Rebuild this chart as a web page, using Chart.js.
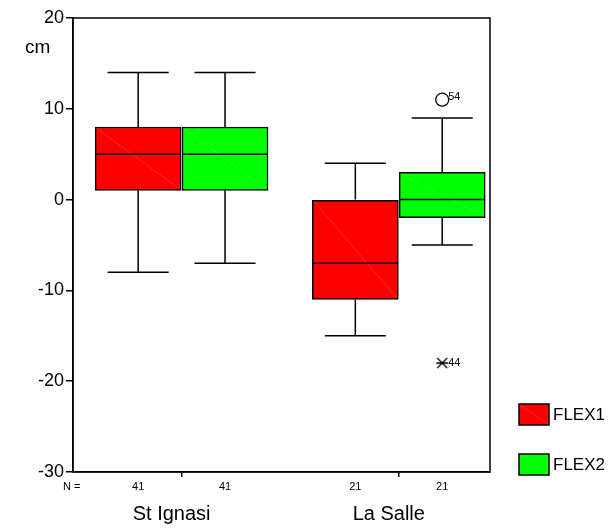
<!DOCTYPE html>
<html>
<head>
<meta charset="utf-8">
<script src="https://cdn.jsdelivr.net/npm/chart.js@4.4.1/dist/chart.umd.min.js"></script>
<style>
  html, body { margin: 0; padding: 0; background: #fff; }
  #wrap { width: 615px; height: 529px; }
</style>
</head>
<body>
<div id="wrap"><canvas id="boxChart"></canvas></div>
<script>
// groups and series
const groups = ['St Ignasi', 'La Salle'];
const seriesNames = ['FLEX1', 'FLEX2'];

// five-number summaries per group (cm)
const flex1Min = [-8, -15];
const flex1Q1 = [1, -11];
const flex1Median = [5, -7];
const flex1Q3 = [8, 0];
const flex1Max = [14, 4];

const flex2Min = [-7, -5];
const flex2Q1 = [1, -2];
const flex2Median = [5, 0];
const flex2Q3 = [8, 3];
const flex2Max = [14, 9];

// N per box
const flex1N = [41, 21];
const flex2N = [41, 21];

// outliers (group index, series index, value, case number, kind)
const outlierGroup = [1, 1];
const outlierSeries = [1, 1];
const outlierValue = [11, -18];
const outlierCase = ['54', '44'];
const outlierKind = ['circle', 'extreme'];

const yTicks = [20, 10, 0, -10, -20, -30];

const FONT = "'Liberation Sans', Arial, sans-serif";
const colors = ['#ff0000', '#00ff00'];

function boxX(g, s) {
    return g * 2 + 1 + (s === 0 ? -0.4 : 0.4);
}

const summaries = [
    { min: flex1Min, q1: flex1Q1, med: flex1Median, q3: flex1Q3, max: flex1Max, n: flex1N },
    { min: flex2Min, q1: flex2Q1, med: flex2Median, q3: flex2Q3, max: flex2Max, n: flex2N }
];

// asterisk marker for extreme values
const starCanvas = document.createElement('canvas');
starCanvas.width = 14;
starCanvas.height = 14;
(function () {
    const c = starCanvas.getContext('2d');
    c.strokeStyle = '#000';
    c.lineWidth = 1.3;
    c.beginPath();
    c.moveTo(2, 2); c.lineTo(12, 12);
    c.moveTo(12, 2); c.lineTo(2, 12);
    c.moveTo(1, 7); c.lineTo(13, 7);
    c.stroke();
})();

const boxDatasets = seriesNames.map((name, s) => ({
    type: 'bar',
    label: name,
    data: groups.map((g, i) => ({ x: boxX(i, s), y: [summaries[s].q1[i], summaries[s].q3[i]] })),
    backgroundColor: colors[s],
    borderColor: '#000',
    borderWidth: 1.5,
    borderSkipped: false,
    barThickness: 86,
    grouped: false
}));

const circleIdx = outlierKind.map((k, i) => i).filter(i => outlierKind[i] === 'circle');
const extremeIdx = outlierKind.map((k, i) => i).filter(i => outlierKind[i] === 'extreme');

const outlierDatasets = [
    {
        type: 'scatter',
        label: 'outliers',
        data: circleIdx.map(i => ({ x: boxX(outlierGroup[i], outlierSeries[i]), y: outlierValue[i] })),
        pointStyle: 'circle',
        pointRadius: 6.5,
        backgroundColor: '#fff',
        borderColor: '#000',
        borderWidth: 1.3
    },
    {
        type: 'scatter',
        label: 'extremes',
        data: extremeIdx.map(i => ({ x: boxX(outlierGroup[i], outlierSeries[i]), y: outlierValue[i] })),
        pointStyle: starCanvas,
        pointRadius: 7
    }
];

// whiskers, medians, frame, labels and legend
const boxPlotExtras = {
    id: 'boxPlotExtras',
    afterDatasetsDraw(chart) {
        const ctx = chart.ctx;
        const xs = chart.scales.x;
        const ys = chart.scales.y;
        const area = chart.chartArea;
        ctx.save();

        summaries.forEach((sm, s) => {
            const bars = chart.getDatasetMeta(s).data;
            groups.forEach((g, i) => {
                const cx = xs.getPixelForValue(boxX(i, s));
                const half = bars[i].width / 2;
                const cap = bars[i].width * 0.355;
                const yq1 = ys.getPixelForValue(sm.q1[i]);
                const yq3 = ys.getPixelForValue(sm.q3[i]);
                const ymed = ys.getPixelForValue(sm.med[i]);
                const ymin = ys.getPixelForValue(sm.min[i]);
                const ymax = ys.getPixelForValue(sm.max[i]);

                // faint diagonal artifact inside the box
                ctx.strokeStyle = 'rgba(255,255,255,0.25)';
                ctx.lineWidth = 0.6;
                ctx.beginPath();
                ctx.moveTo(cx - half + 1, yq3 + 1);
                ctx.lineTo(cx + half - 1, yq1 - 1);
                ctx.stroke();

                ctx.strokeStyle = '#000';
                ctx.lineWidth = 1.5;
                ctx.beginPath();
                ctx.moveTo(cx - half, ymed); ctx.lineTo(cx + half, ymed);
                ctx.moveTo(cx, yq3); ctx.lineTo(cx, ymax);
                ctx.moveTo(cx - cap, ymax); ctx.lineTo(cx + cap, ymax);
                ctx.moveTo(cx, yq1); ctx.lineTo(cx, ymin);
                ctx.moveTo(cx - cap, ymin); ctx.lineTo(cx + cap, ymin);
                ctx.stroke();
            });
        });

        // plot frame
        ctx.strokeStyle = '#000';
        ctx.lineWidth = 1.5;
        ctx.strokeRect(area.left, area.top, area.right - area.left, area.bottom - area.top);

        // outlier case numbers
        ctx.fillStyle = '#000';
        ctx.font = '11px ' + FONT;
        ctx.textAlign = 'left';
        ctx.textBaseline = 'middle';
        outlierValue.forEach((v, i) => {
            const px = xs.getPixelForValue(boxX(outlierGroup[i], outlierSeries[i]));
            const py = ys.getPixelForValue(v);
            ctx.fillText(outlierCase[i], px + 6, py - (outlierKind[i] === 'circle' ? 3 : 0));
        });

        // N row
        const nY = area.bottom + 15;
        ctx.font = '11px ' + FONT;
        ctx.textAlign = 'left';
        ctx.fillText('N =', 63, nY);
        ctx.textAlign = 'center';
        summaries.forEach((sm, s) => {
            groups.forEach((g, i) => {
                ctx.fillText(String(sm.n[i]), xs.getPixelForValue(boxX(i, s)), nY);
            });
        });

        // group labels
        ctx.font = '20px ' + FONT;
        groups.forEach((g, i) => {
            ctx.fillText(g, xs.getPixelForValue(i * 2 + 1) - 10, area.bottom + 42);
        });

        // unit label
        ctx.font = '19px ' + FONT;
        ctx.textAlign = 'left';
        ctx.fillText('cm', 25, 48);

        // legend
        ctx.font = '17px ' + FONT;
        seriesNames.forEach((name, s) => {
            const top = 404 + s * 50;
            ctx.fillStyle = colors[s];
            ctx.fillRect(519, top, 30, 21);
            ctx.strokeStyle = 'rgba(255,255,255,0.25)';
            ctx.lineWidth = 0.6;
            ctx.beginPath();
            ctx.moveTo(520, top + 1); ctx.lineTo(548, top + 20);
            ctx.stroke();
            ctx.strokeStyle = '#000';
            ctx.lineWidth = 1.5;
            ctx.strokeRect(519, top, 30, 21);
            ctx.fillStyle = '#000';
            ctx.fillText(name, 553, top + 11);
        });

        ctx.restore();
    }
};

const ctx = document.getElementById('boxChart').getContext('2d');
const boxChart = new Chart(ctx, {
    type: 'bar',
    data: { datasets: [...boxDatasets, ...outlierDatasets] },
    options: {
        responsive: true,
        maintainAspectRatio: false,
        animation: false,
        layout: { padding: { top: 18, right: 125, left: 0, bottom: 0 } },
        plugins: {
            legend: { display: false },
            tooltip: { enabled: false }
        },
        scales: {
            x: {
                type: 'linear',
                min: 0,
                max: 3.84,
                offset: false,
                afterBuildTicks: (scale) => { scale.ticks = groups.map((g, i) => ({ value: i * 2 + 1 })); },
                afterFit: (scale) => { scale.height = 57; },
                ticks: { callback: () => '', padding: 0 },
                grid: { offset: false, drawOnChartArea: false, tickLength: 5, color: '#000', lineWidth: 1.5 },
                border: { color: '#000', width: 1.5 }
            },
            y: {
                min: -30,
                max: 20,
                afterBuildTicks: (scale) => { scale.ticks = yTicks.map(v => ({ value: v })); },
                afterFit: (scale) => { scale.width = 73; },
                ticks: {
                    color: '#000',
                    font: { family: FONT, size: 18 },
                    padding: 2
                },
                grid: { drawOnChartArea: false, tickLength: 7, color: '#000', lineWidth: 1.5 },
                border: { color: '#000', width: 1.5 }
            }
        }
    },
    plugins: [boxPlotExtras]
});
</script>
</body>
</html>
